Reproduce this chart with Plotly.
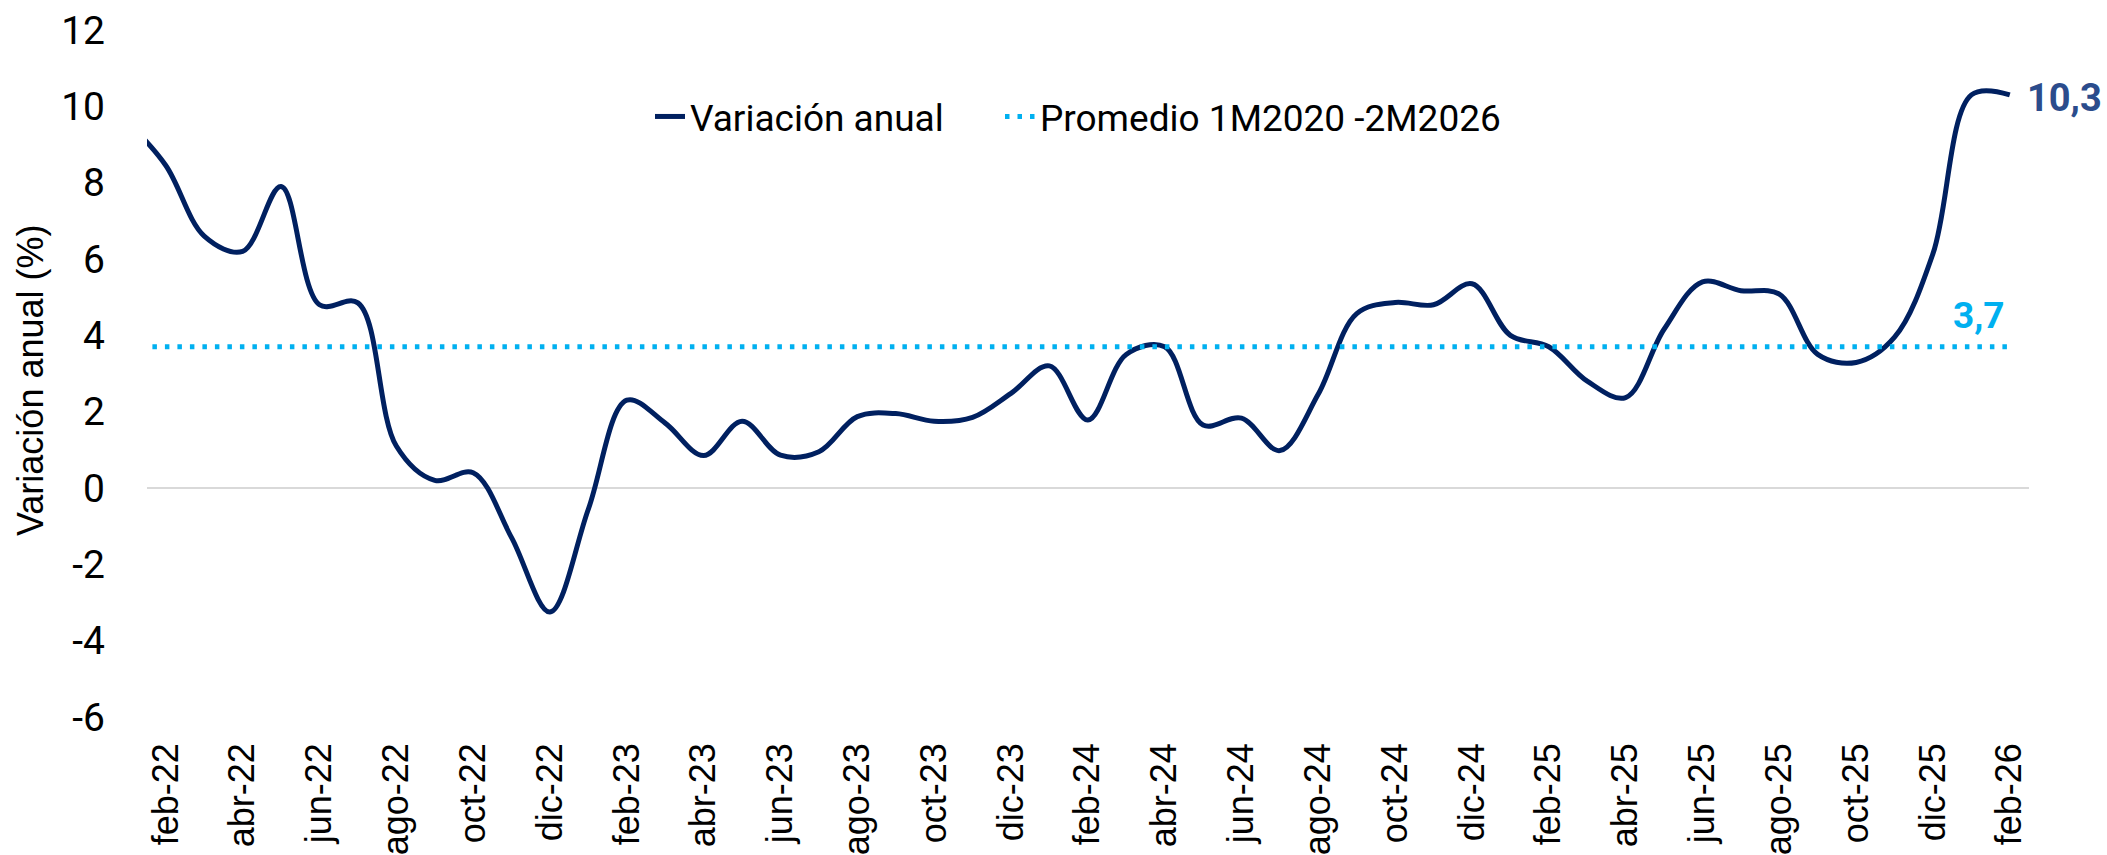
import plotly.graph_objects as go

months = ["ene-22", "feb-22", "mar-22", "abr-22", "may-22", "jun-22", "jul-22", "ago-22", "sep-22", "oct-22", "nov-22", "dic-22",
          "ene-23", "feb-23", "mar-23", "abr-23", "may-23", "jun-23", "jul-23", "ago-23", "sep-23", "oct-23", "nov-23", "dic-23",
          "ene-24", "feb-24", "mar-24", "abr-24", "may-24", "jun-24", "jul-24", "ago-24", "sep-24", "oct-24", "nov-24", "dic-24",
          "ene-25", "feb-25", "mar-25", "abr-25", "may-25", "jun-25", "jul-25", "ago-25", "sep-25", "oct-25", "nov-25", "dic-25",
          "ene-26", "feb-26"]

variacion_anual = [9.6, 8.45, 6.6, 6.2, 7.9, 4.8, 4.85, 1.1, 0.2, 0.4, -1.3, -3.25,
                   -0.55, 2.3, 1.7, 0.85, 1.75, 0.86, 0.95, 1.87, 1.95, 1.75, 1.85, 2.48,
                   3.2, 1.78, 3.5, 3.7, 1.65, 1.83, 0.98, 2.46, 4.57, 4.86, 4.8, 5.35,
                   4.0, 3.7, 2.8, 2.37, 4.16, 5.4, 5.17, 5.08, 3.5, 3.29, 3.95, 6.14,
                   10.3, 10.3]

promedio = 3.7

tick_labels = months[1::2]
y_ticks = [-6, -4, -2, 0, 2, 4, 6, 8, 10, 12]
y_tick_text = [str(v) for v in y_ticks]

LINE_COLOR = "#002060"
AVG_COLOR = "#00B0F0"

W, H = 2107, 855
L, R, T, B = 147, 78, 30, 138

fig = go.Figure()
fig.add_trace(go.Scatter(
    x=months, y=variacion_anual, mode="lines", name="Variación anual", legend="legend",
    line=dict(color=LINE_COLOR, width=5, shape="spline", smoothing=1.0),
))
fig.add_trace(go.Scatter(
    x=months, y=[promedio] * len(months), mode="lines", name="Promedio 1M2020 -2M2026", legend="legend2",
    line=dict(color=AVG_COLOR, width=5, dash="4.5px,8px"),
))

fmt = lambda v: f"{v:.1f}".replace(".", ",")

fig.add_annotation(x=months[-1], y=variacion_anual[-1], text=f"<b>{fmt(variacion_anual[-1])}</b>",
                   showarrow=False, xanchor="left", yanchor="middle", xshift=15, yshift=-3,
                   font=dict(family="Roboto", size=38, color="#2B4C8C"))
fig.add_annotation(x=months[-1], y=promedio, text=f"<b>{fmt(promedio)}</b>",
                   showarrow=False, xanchor="right", yanchor="bottom", xshift=-3, yshift=8,
                   font=dict(family="Roboto", size=37, color=AVG_COLOR))

# y-axis title placed as a rotated annotation
plot_w = W - L - R
plot_h = H - T - B
fig.add_annotation(xref="paper", yref="paper", x=(30 - L) / plot_w, y=(H - B - 381) / plot_h,
                   text="Variación anual (%)", textangle=-90, showarrow=False,
                   xanchor="center", yanchor="middle",
                   font=dict(family="Liberation Sans", size=36, color="#000000"))

legend_font = dict(family="Roboto", size=37, color="#000000")
fig.update_layout(
    template="none",
    width=W, height=H,
    margin=dict(l=L, r=R, t=T, b=B, autoexpand=False),
    paper_bgcolor="white", plot_bgcolor="white",
    showlegend=True,
    legend=dict(orientation="h", x=(650 - L) / plot_w, xanchor="left", y=0.8735, yanchor="middle",
                font=legend_font, bgcolor="rgba(0,0,0,0)"),
    legend2=dict(orientation="h", x=(1000 - L) / plot_w, xanchor="left", y=0.8735, yanchor="middle",
                 font=legend_font, bgcolor="rgba(0,0,0,0)"),
    xaxis=dict(
        type="category", range=[0.51, 49.5], automargin=False,
        tickmode="array", tickvals=tick_labels, ticktext=tick_labels,
        tickangle=-90, showgrid=False, zeroline=False, showline=False,
        ticks="", ticklabelstandoff=18,
        tickfont=dict(family="Liberation Sans", size=36, color="#000000"),
    ),
    yaxis=dict(
        range=[-6, 12], tickmode="array", tickvals=y_ticks, ticktext=y_tick_text, automargin=False,
        showgrid=False, zeroline=True, zerolinecolor="#D9D9D9", zerolinewidth=2,
        showline=False, ticks="", ticklabelstandoff=41,
        tickfont=dict(family="Roboto", size=39, color="#000000"),
    ),
)

fig.write_html("out.html", config={"displayModeBar": False},
               post_script="document.body.style.margin='0';document.body.style.overflow='hidden';")
